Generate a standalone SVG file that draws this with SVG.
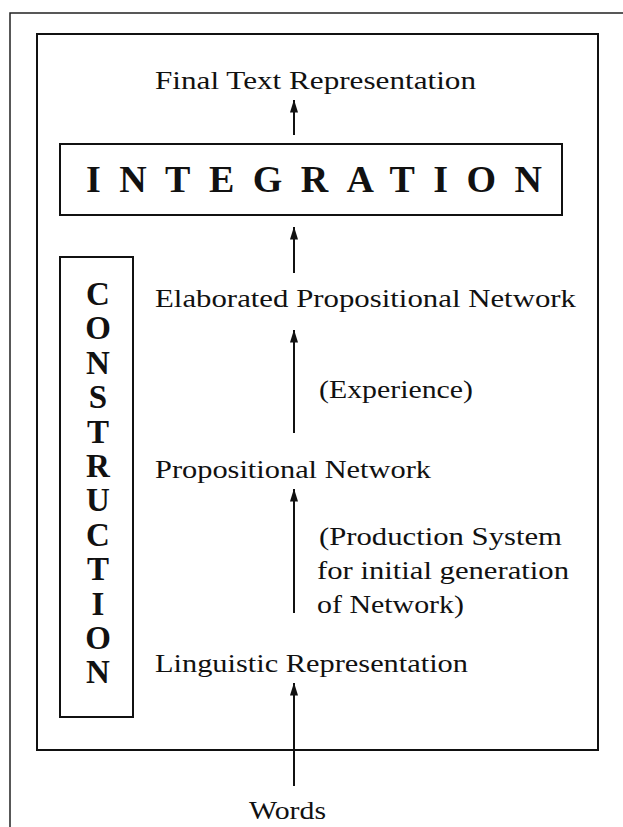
<svg xmlns="http://www.w3.org/2000/svg" width="623" height="827" viewBox="0 0 623 827">
<style>
.t{font-family:"Liberation Serif","Times New Roman",serif;font-size:26px;fill:#111}
.big{font-family:"Liberation Serif","Times New Roman",serif;font-size:38px;font-weight:bold;fill:#111}
.col{font-family:"Liberation Serif","Times New Roman",serif;font-size:33px;font-weight:bold;fill:#111;text-anchor:middle}
.box{fill:none;stroke:#111;stroke-width:2}
.edge{stroke:#111;stroke-width:2;fill:none}
</style>
<defs>
<marker id="ah" viewBox="0 0 13 8" refX="12.5" refY="4" markerWidth="13" markerHeight="8" markerUnits="userSpaceOnUse" orient="auto">
<path d="M0,0 L13,4 L0,8 Z" fill="#111"/>
</marker>
</defs>
<rect width="623" height="827" fill="#fff"/>
<g id="frame">
<path d="M10,827 L10,13 L623,13" fill="none" stroke="#222" stroke-width="1.5"/>
<rect class="box" x="37" y="34" width="561" height="716"/>
</g>
<g id="final"><text class="t" x="155" y="89" textLength="321" lengthAdjust="spacingAndGlyphs">Final Text Representation</text></g>
<g id="integration">
<rect class="box" x="60" y="144" width="502" height="71"/>
<text class="big" x="86" y="192" textLength="456">INTEGRATION</text>
</g>
<g id="construction">
<rect class="box" x="60" y="257" width="73" height="460"/>
<text class="col" x="98" y="305">C</text>
<text class="col" x="98" y="339.4">O</text>
<text class="col" x="98" y="373.8">N</text>
<text class="col" x="98" y="408.2">S</text>
<text class="col" x="98" y="442.6">T</text>
<text class="col" x="98" y="477">R</text>
<text class="col" x="98" y="511.4">U</text>
<text class="col" x="98" y="545.8">C</text>
<text class="col" x="98" y="580.2">T</text>
<text class="col" x="98" y="614.6">I</text>
<text class="col" x="98" y="649">O</text>
<text class="col" x="98" y="683.4">N</text>
</g>
<g id="elaborated"><text class="t" x="155" y="307" textLength="421" lengthAdjust="spacingAndGlyphs">Elaborated Propositional Network</text></g>
<g id="experience"><text class="t" x="319" y="398" textLength="154" lengthAdjust="spacingAndGlyphs">(Experience)</text></g>
<g id="propositional"><text class="t" x="155" y="478" textLength="276" lengthAdjust="spacingAndGlyphs">Propositional Network</text></g>
<g id="production">
<text class="t" x="319" y="545" textLength="243" lengthAdjust="spacingAndGlyphs">(Production System</text>
<text class="t" x="317" y="579" textLength="252" lengthAdjust="spacingAndGlyphs">for initial generation</text>
<text class="t" x="317" y="613" textLength="147" lengthAdjust="spacingAndGlyphs">of Network)</text>
</g>
<g id="linguistic"><text class="t" x="155" y="672" textLength="313" lengthAdjust="spacingAndGlyphs">Linguistic Representation</text></g>
<g id="words"><text class="t" x="249" y="819" textLength="77" lengthAdjust="spacingAndGlyphs">Words</text></g>
<g id="connectors">
<line class="edge" x1="294" y1="135" x2="294" y2="100" marker-end="url(#ah)"/>
<line class="edge" x1="294" y1="273" x2="294" y2="227" marker-end="url(#ah)"/>
<line class="edge" x1="294" y1="433" x2="294" y2="330" marker-end="url(#ah)"/>
<line class="edge" x1="294" y1="613" x2="294" y2="489" marker-end="url(#ah)"/>
<line class="edge" x1="294" y1="786" x2="294" y2="683" marker-end="url(#ah)"/>
</g>
</svg>
